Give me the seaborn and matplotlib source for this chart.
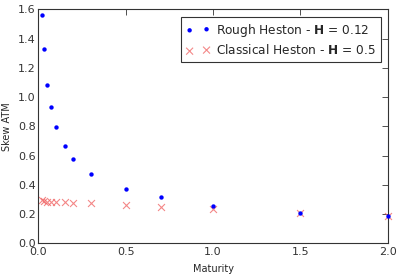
import pandas as pd
import matplotlib
matplotlib.use('Agg')
import matplotlib.pyplot as plt
import seaborn as sns

# maturities and ATM skew values
maturity = [0.02, 0.03, 0.05, 0.075, 0.1, 0.15, 0.2, 0.3, 0.5, 0.7, 1.0, 1.5, 2.0]
skew_rough = [1.56, 1.33, 1.08, 0.93, 0.795, 0.668, 0.579, 0.476, 0.372, 0.315, 0.255, 0.207, 0.188]
skew_classic = [0.296, 0.29, 0.285, 0.282, 0.28, 0.279, 0.278, 0.274, 0.262, 0.248, 0.233, 0.207, 0.188]

label_rough = 'Rough Heston - $\\mathbf{H}$ = 0.12'
label_classic = 'Classical Heston - $\\mathbf{H}$ = 0.5'

df = pd.DataFrame({'Maturity': maturity, 'rough': skew_rough, 'classic': skew_classic})

sns.set_style('white')
plt.rcParams['font.family'] = ['DejaVu Sans']
plt.rcParams['xtick.direction'] = 'in'
plt.rcParams['ytick.direction'] = 'in'
plt.rcParams['mathtext.default'] = 'regular'

fig = plt.figure(figsize=(3.99, 2.77), dpi=100)
ax = fig.add_axes([0.096, 0.122, 0.876, 0.844])

sns.scatterplot(data=df, x='Maturity', y='rough', ax=ax, marker='.', color='b',
                s=40, linewidth=0, label=label_rough, clip_on=False, zorder=3)
sns.scatterplot(data=df, x='Maturity', y='classic', ax=ax, marker='x', color='#f06060',
                s=25, linewidth=0.8, alpha=0.75, label=label_classic, clip_on=False, zorder=2)

ax.set_xlim(0, 2.0)
ax.set_ylim(0, 1.6)
ax.set_xticks([0.0, 0.5, 1.0, 1.5, 2.0])
ax.set_yticks([0.0, 0.2, 0.4, 0.6, 0.8, 1.0, 1.2, 1.4, 1.6])
ax.set_xlabel('Maturity', fontsize=7, labelpad=5)
ax.set_ylabel('Skew ATM', fontsize=7)
ax.tick_params(axis='both', labelsize=8, length=4, width=0.6, color='#333333',
               top=True, right=True, labelcolor='#333333')
ax.tick_params(axis='x', pad=3)
ax.tick_params(axis='y', pad=2)
for s in ax.spines.values():
    s.set_color('#333333')
    s.set_linewidth(0.8)

leg = ax.legend(loc='upper right', fontsize=8.7, frameon=True, fancybox=False,
                borderpad=0.4, handletextpad=0.5, labelspacing=0.4,
                scatterpoints=2, borderaxespad=0.6)
leg.get_frame().set_edgecolor('black')
leg.get_frame().set_linewidth(0.8)

fig.savefig('out.png', dpi=100)
